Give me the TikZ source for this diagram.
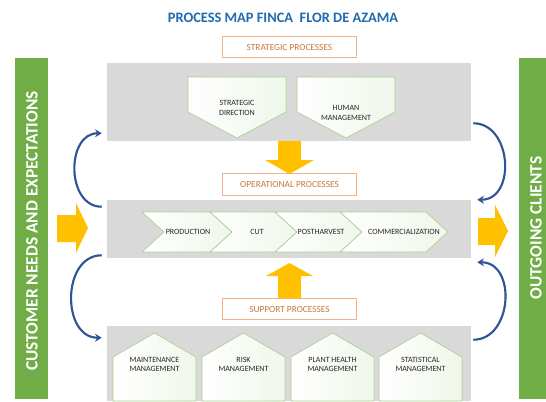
\documentclass[tikz,border=0pt]{standalone}
\usepackage{fontspec}
\setmainfont{Carlito}
\usetikzlibrary{arrows.meta,fit}

\definecolor{panelgrey}{HTML}{D9D9D9}
\definecolor{mapblue}{HTML}{1F6AB0}
\definecolor{arcblue}{HTML}{2F5597}
\definecolor{flowgold}{HTML}{FFC000}
\definecolor{sidegreen}{HTML}{70AD47}
\definecolor{stepgreen}{HTML}{A9D18E}
\definecolor{tagline}{HTML}{F4B183}
\definecolor{tagtext}{HTML}{C9773A}

\tikzset{
  panel/.style={fill=panelgrey, draw=none, inner sep=0pt},
  tagbox/.style={draw=tagline, fill=white, line width=0.6pt, text=tagtext,
    minimum width=101pt, minimum height=16pt, font=\fontsize{7}{8}\selectfont},
  stepshape/.style={draw=stepgreen, line width=0.5pt, left color=white, right color=stepgreen!18},
  steptext/.style={font=\fontsize{6}{7.2}\selectfont, align=center, text=black!85},
  bigarrow/.style={fill=flowgold},
  sidebar/.style={fill=sidegreen},
  sidetext/.style={rotate=90, text=white, font=\bfseries\fontsize{13}{15}\selectfont},
  looparrow/.style={draw=arcblue, line width=1.6pt, -{Stealth[length=5pt,width=6pt]}},
}

\begin{document}
\begin{tikzpicture}[x=0.75pt, y=-0.75pt]
  \useasboundingbox (0,0) rectangle (546,401);
  % title
  \node[font=\bfseries\fontsize{10.8}{13}\selectfont, text=mapblue] (title) at (283,18) {PROCESS MAP FINCA\ \ FLOR DE AZAMA};

  % green side bars
  \fill[sidebar] (15,58) rectangle (48,399);
  \fill[sidebar] (519,58) rectangle (546,399);
  \node[sidetext] (needs) at (32,231) {CUSTOMER NEEDS AND EXPECTATIONS};
  \node[sidetext] (clients) at (536,228) {OUTGOING CLIENTS};

  % grey panels
  \node[panel, fit={(107,63) (471,141)}] (strat) {};
  \node[panel, fit={(107,200) (471,258)}] (oper) {};
  \node[panel, fit={(107,326) (471,401)}] (supp) {};

  % section labels
  \node[tagbox] (stratlabel) at (289.5,47) {STRATEGIC PROCESSES};
  \node[tagbox] (operlabel) at (289.5,184.5) {OPERATIONAL PROCESSES};
  \node[tagbox] (supplabel) at (289.5,309) {SUPPORT PROCESSES};

  % strategic processes
  \foreach \a/\ty/\n/\t in {188/108/direction/{STRATEGIC\\DIRECTION}, 297/113/human/{HUMAN\\MANAGEMENT}}{
    \draw[stepshape] (\a,77) -- (\a+98,77) -- (\a+98,112) -- (\a+49,138) -- (\a,112) -- cycle;
    \node[steptext] (\n) at (\a+49,\ty) {\t};
  }

  % operational chain
  \foreach \a/\b/\c/\n/\t in {142/210/188/prod/PRODUCTION, 210/275/257/cut/CUT,
      275/340/321/post/POSTHARVEST, 340/426/404/comm/COMMERCIALIZATION}{
    \draw[stepshape] (\a,212) -- (\b,212) -- (\b+22,232) -- (\b,252) -- (\a,252) -- (\a+22,232) -- cycle;
    \node[steptext] (\n) at (\c,232) {\t};
  }

  % support processes
  \foreach \a/\n/\t in {113/maint/{MAINTENANCE\\MANAGEMENT}, 202/risk/{RISK\\MANAGEMENT},
      291/health/{PLANT HEALTH\\MANAGEMENT}, 379/stats/{STATISTICAL\\MANAGEMENT}}{
    \draw[stepshape] (\a,401) -- (\a,357) -- (\a+41.5,333) -- (\a+83,357) -- (\a+83,401) -- cycle;
    \node[steptext] (\n) at (\a+41.5,364.5) {\t};
  }

  % yellow block arrows
  \fill[bigarrow] (278,141) -- (301,141) -- (301,160) -- (314,160) -- (289.5,174) -- (265,160) -- (278,160) -- cycle;
  \fill[bigarrow] (278,298) -- (301,298) -- (301,276) -- (313,276) -- (289.5,263) -- (266,276) -- (278,276) -- cycle;
  \fill[bigarrow] (57,215) -- (76,215) -- (76,203) -- (88,228) -- (76,253) -- (76,242) -- (57,242) -- cycle;
  \fill[bigarrow] (478,218) -- (495,218) -- (495,205) -- (508,231) -- (495,257) -- (495,245) -- (478,245) -- cycle;

  % feedback loops
  \draw[looparrow] ([shift={(-5,7)}]oper.north west) to[out=180,in=180,looseness=1.25] ([shift={(-5,-8)}]strat.south west);
  \draw[looparrow] ([shift={(-5,-3)}]oper.south west) to[out=180,in=180,looseness=1.25] ([shift={(-5,12)}]supp.north west);
  \draw[looparrow] ([shift={(2,-18)}]strat.south east) to[out=0,in=0,looseness=1.3] ([shift={(6,0)}]oper.north east);
  \draw[looparrow] ([shift={(2,14)}]supp.north east) to[out=0,in=0,looseness=1.3] ([shift={(6,4)}]oper.south east);
\end{tikzpicture}
\end{document}
